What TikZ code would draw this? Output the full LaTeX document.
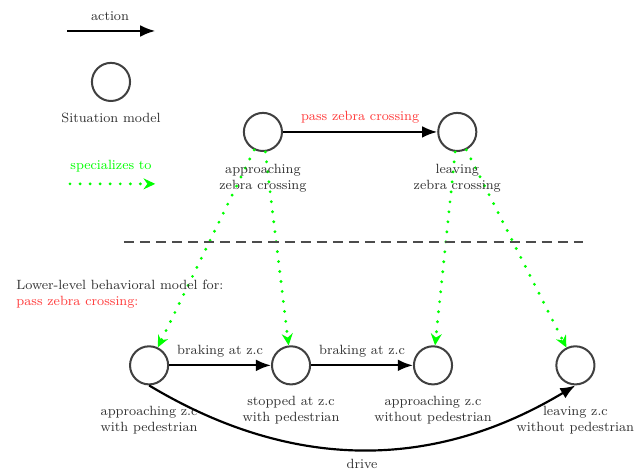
\documentclass[tikz,border=0pt]{standalone}
\usepackage{xcolor}
\usepackage{tikz}
\usetikzlibrary{arrows.meta,positioning}
\definecolor{spec}{RGB}{0,255,0}
\definecolor{actred}{RGB}{255,60,60}

\begin{document}
\begin{tikzpicture}[
    state/.style={circle, draw=black!75, line width=1.2pt, minimum size=0.8cm, inner sep=0pt},
    txt/.style={font=\footnotesize, text=black!80, align=center},
    action/.style={-{Latex[length=9pt,width=7pt]}, line width=1.3pt},
    specarrow/.style={-{Stealth[length=7pt,width=6.5pt]}, spec, line width=1.9pt, line cap=round, dash pattern=on 0pt off 6pt}
]
\useasboundingbox (0,0) rectangle (13.52,-9.89);

% Legend
\node[txt] (actlbl) at (2.31,-0.34) {action};
\coordinate (act0) at (1.41,-0.65);
\coordinate (act1) at (3.26,-0.65);
\draw[action] (act0) -- (act1);
\node[state] (leg) at (2.33,-1.72) {};
\node[txt] (leglbl) at (2.33,-2.48) {Situation model};
\node[txt, text=spec] (speclbl) at (2.33,-3.49) {specializes to};
\coordinate (spec0) at (1.47,-3.86);
\coordinate (spec1) at (3.26,-3.86);
\draw[specarrow] (spec0) -- (spec1);

% Situation models
\node[state] (appr) at (5.52,-2.77) {};
\node[state] (leav) at (9.60,-2.77) {};
\draw[action] (appr) -- node[txt, text=actred, above=1pt] {pass zebra crossing} (leav);

% Lower-level models
\node[state] (apped) at (3.13,-7.67) {};
\node[state] (stped) at (6.11,-7.67) {};
\node[state] (apnoped) at (9.09,-7.67) {};
\node[state] (lvnoped) at (12.08,-7.67) {};

% Specialization arrows
\draw[specarrow] (appr) -- (apped);
\draw[specarrow] (appr) -- (stped);
\draw[specarrow] (leav) -- (apnoped);
\draw[specarrow] (leav) -- (lvnoped);

% Labels
\node[txt] (apprlbl) at (5.52,-3.74) {approaching\\zebra crossing};
\node[txt] (leavlbl) at (9.60,-3.74) {leaving\\zebra crossing};
\node[txt] (appedlbl) at (3.13,-8.82) {approaching z.c\\with pedestrian};
\node[txt] (stpedlbl) at (6.11,-8.61) {stopped at z.c\\with pedestrian};
\node[txt] (apnopedlbl) at (9.09,-8.61) {approaching z.c\\without pedestrian};
\node[txt] (lvnopedlbl) at (12.08,-8.82) {leaving z.c\\without pedestrian};

% Separator
\coordinate (sep0) at (2.60,-5.08);
\coordinate (sep1) at (12.24,-5.08);
\draw[black!70, line width=1pt, dash pattern=on 6pt off 3.6pt] (sep0) -- (sep1);
\node[txt, align=left, anchor=west] (lower) at (0.22,-6.17) {Lower-level behavioral model for:\\\textcolor{actred}{pass zebra crossing:}};

% Actions
\draw[action] (apped) -- node[txt, above=1pt] {braking at z.c} (stped);
\draw[action] (stped) -- node[txt, above=1pt] {braking at z.c} (apnoped);
\draw[action] (apped.south) to[bend right=31] (lvnoped.south);
\node[txt] (drive) at (7.60,-9.74) {drive};

\end{tikzpicture}
\end{document}
